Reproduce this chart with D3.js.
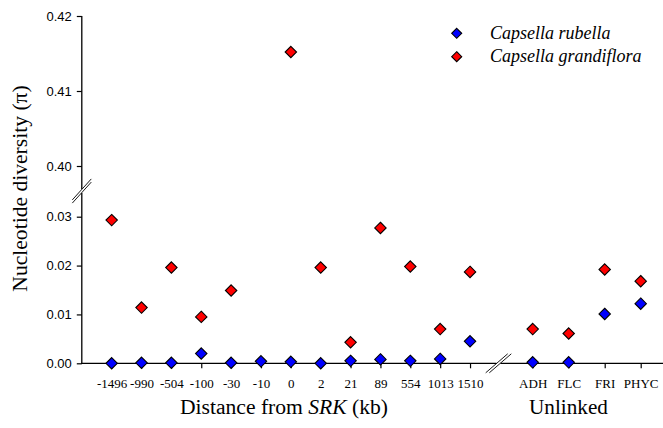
<!DOCTYPE html>
<html>
<head>
<meta charset="utf-8">
<script src="https://cdn.jsdelivr.net/npm/d3@7/dist/d3.min.js"></script>
<style>
  html, body { margin: 0; padding: 0; background: #fff; }
  svg { display: block; }
</style>
</head>
<body>
<svg id="chart" width="663" height="428"></svg>
<script>
// ---- data ----
const linkedCats = ["-1496", "-990", "-504", "-100", "-30", "-10", "0", "2", "21", "89", "554", "1013", "1510"];
const unlinkedCats = ["ADH", "FLC", "FRI", "PHYC"];
const rubellaLinked = [0.0000, 0.0001, 0.0001, 0.0020, 0.0001, 0.0004, 0.0003, 0.0000, 0.0005, 0.0008, 0.0005, 0.0009, 0.0045];
const rubellaUnlinked = [0.0002, 0.0002, 0.0101, 0.0122];
const grandifloraLinked = [0.0293, 0.0114, 0.0196, 0.0095, 0.0149, null, 0.4152, 0.0196, 0.0043, 0.0277, 0.0198, 0.0070, 0.0187];
const grandifloraUnlinked = [0.0070, 0.0061, 0.0192, 0.0168];
const lowTicks = [0.00, 0.01, 0.02, 0.03];
const highTicks = [0.40, 0.41, 0.42];
const seriesNames = ["Capsella rubella", "Capsella grandiflora"];
const seriesColors = ["#0000ff", "#ff0000"];

// ---- scales ----
const svg = d3.select("#chart");
const axisX0 = 81.8;
const xLinked = d3.scalePoint().domain(linkedCats).range([axisX0, 499.9]).padding(1);
const xUnlinked = d3.scalePoint().domain(unlinkedCats).range([496.7, 676.7]).padding(1);
const yLow = d3.scaleLinear().domain([0, 0.03]).range([363.3, 216.7]);
const yHigh = d3.scaleLinear().domain([0.40, 0.42]).range([166, 16]);
const yOf = v => v > 0.1 ? yHigh(v) : yLow(v);
const y0 = yLow(0);
const serif = "'Liberation Serif', 'Times New Roman', serif";
const sans = "'Liberation Sans', Arial, sans-serif";

svg.append("rect").attr("width", 663).attr("height", 428).attr("fill", "#fff");

// ---- y axes ----
const yBreak = 191;
const gLow = svg.append("g").attr("transform", `translate(${axisX0},0)`)
  .call(d3.axisLeft(yLow).tickValues(lowTicks).tickFormat(d3.format(".2f")).tickSize(5).tickPadding(5).tickSizeOuter(0));
const gHigh = svg.append("g").attr("transform", `translate(${axisX0},0)`)
  .call(d3.axisLeft(yHigh).tickValues(highTicks).tickFormat(d3.format(".2f")).tickSize(5).tickPadding(5).tickSizeOuter(0));
[gLow, gHigh].forEach(g => {
  g.select(".domain").remove();
  g.selectAll("line").attr("stroke", "#000").attr("stroke-width", 1.2);
  g.selectAll("text").style("font-family", sans).style("font-size", "13px").attr("fill", "#000");
});
svg.append("line").attr("x1", axisX0).attr("x2", axisX0).attr("y1", y0 + 0.6).attr("y2", yBreak + 2)
  .attr("stroke", "#000").attr("stroke-width", 1.3);
svg.append("line").attr("x1", axisX0).attr("x2", axisX0).attr("y1", yBreak - 2).attr("y2", yHigh(0.42))
  .attr("stroke", "#000").attr("stroke-width", 1.3);
[-1.6, 1.6].forEach(o => {
  svg.append("line")
    .attr("x1", axisX0 - 9.5).attr("y1", yBreak + o + 10.5)
    .attr("x2", axisX0 + 9.5).attr("y2", yBreak + o - 10.5)
    .attr("stroke", "#000").attr("stroke-width", 0.9);
});

// ---- x axes ----
const xBreak = 498.5;
const gxL = svg.append("g").attr("transform", `translate(0,${y0})`)
  .call(d3.axisBottom(xLinked).tickSize(5).tickPadding(10).tickSizeOuter(0));
const gxU = svg.append("g").attr("transform", `translate(0,${y0})`)
  .call(d3.axisBottom(xUnlinked).tickSize(5).tickPadding(10).tickSizeOuter(0));
[gxL, gxU].forEach(g => {
  g.select(".domain").remove();
  g.selectAll("line").attr("stroke", "#000").attr("stroke-width", 1.2);
  g.selectAll("text").style("font-family", serif).style("font-size", "13px").attr("fill", "#000");
});
svg.append("line").attr("x1", axisX0 - 0.6).attr("x2", xBreak - 2).attr("y1", y0).attr("y2", y0)
  .attr("stroke", "#000").attr("stroke-width", 1.3);
svg.append("line").attr("x1", xBreak + 2).attr("x2", 663).attr("y1", y0).attr("y2", y0)
  .attr("stroke", "#000").attr("stroke-width", 1.3);
[-1.8, 1.8].forEach(o => {
  svg.append("line")
    .attr("x1", xBreak + o - 11).attr("y1", y0 + 9.5)
    .attr("x2", xBreak + o + 11).attr("y2", y0 - 9.5)
    .attr("stroke", "#000").attr("stroke-width", 0.9);
});

// ---- axis titles ----
const xt = svg.append("text").attr("x", 284).attr("y", 414).attr("text-anchor", "middle")
  .style("font-family", serif).style("font-size", "21.6px").attr("fill", "#000");
xt.append("tspan").text("Distance from\u00a0");
xt.append("tspan").style("font-style", "italic").text("SRK");
xt.append("tspan").text("\u00a0(kb)");
svg.append("text").attr("x", 568.5).attr("y", 414).attr("text-anchor", "middle")
  .style("font-family", serif).style("font-size", "21.2px").attr("fill", "#000").text("Unlinked");
svg.append("text").attr("transform", "translate(27,188.5) rotate(-90)").attr("text-anchor", "middle")
  .style("font-family", serif).style("font-size", "21.6px").attr("fill", "#000").text("Nucleotide diversity (\u03c0)");

// ---- points ----
const diamond = r => `M0,${-r}L${r},0L0,${r}L${-r},0Z`;
function pts(cats, vals, xs, color) {
  const data = cats.map((c, i) => ({ c, v: vals[i] })).filter(d => d.v != null);
  svg.append("g").selectAll("path").data(data).join("path")
    .attr("d", diamond(5.7))
    .attr("transform", d => `translate(${xs(d.c)},${yOf(d.v)})`)
    .attr("fill", color).attr("stroke", "#000").attr("stroke-width", 1.1);
}
pts(linkedCats, grandifloraLinked, xLinked, seriesColors[1]);
pts(unlinkedCats, grandifloraUnlinked, xUnlinked, seriesColors[1]);
pts(linkedCats, rubellaLinked, xLinked, seriesColors[0]);
pts(unlinkedCats, rubellaUnlinked, xUnlinked, seriesColors[0]);

// ---- legend ----
const leg = svg.append("g");
seriesNames.forEach((n, i) => {
  const yy = 33.3 + i * 23.4;
  leg.append("path").attr("d", diamond(5)).attr("transform", `translate(456.7,${yy})`)
    .attr("fill", seriesColors[i]).attr("stroke", "#000").attr("stroke-width", 1.1);
  leg.append("text").attr("x", 490).attr("y", yy + 5.2)
    .style("font-family", serif).style("font-style", "italic").style("font-size", "18px").attr("fill", "#000").text(n);
});
</script>
</body>
</html>
